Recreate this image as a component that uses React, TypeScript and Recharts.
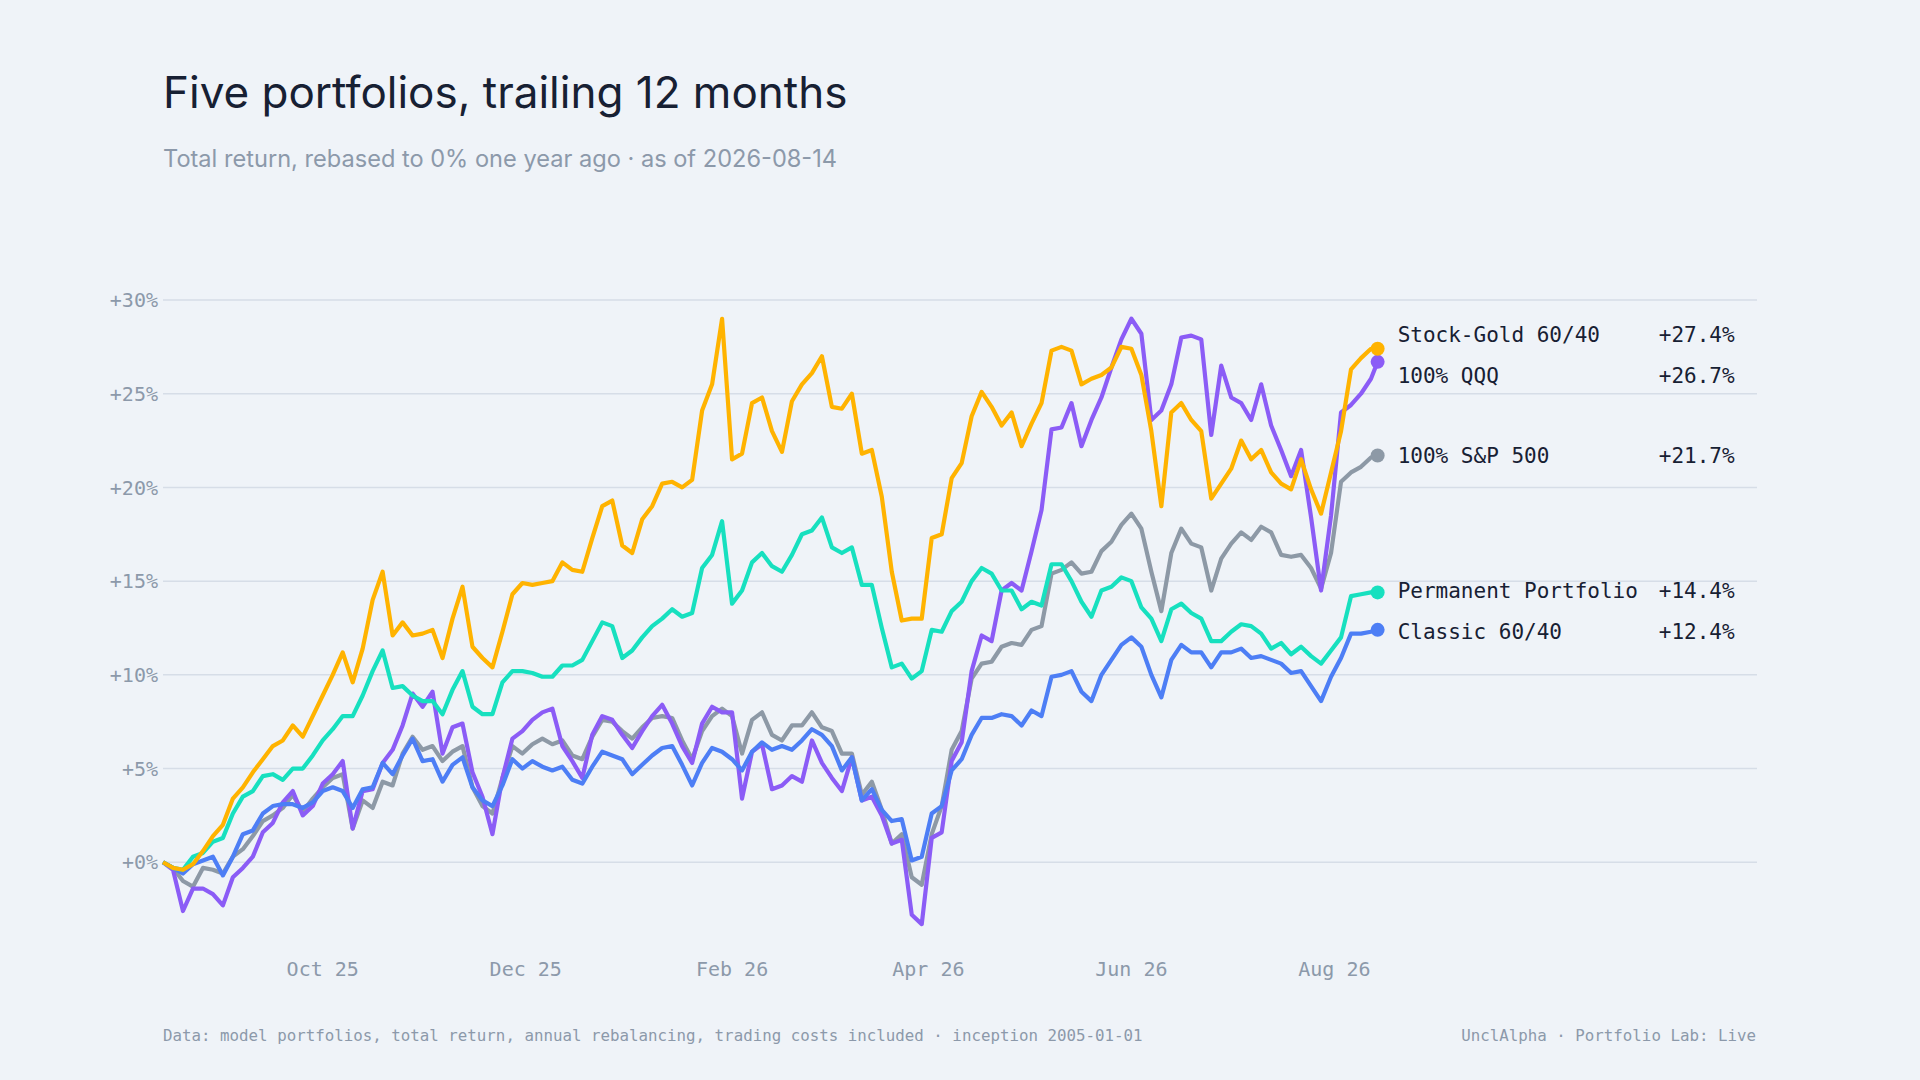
import { LineChart, Line, XAxis, YAxis, CartesianGrid } from 'recharts';

// trading-day sample, days since 2025-08-14
const days = [
  0, 3, 6, 9, 12, 15, 18, 21, 24, 27, 30, 33, 36, 39, 42, 45, 48, 51, 54, 57,
  60, 63, 66, 69, 72, 75, 78, 81, 84, 87, 90, 93, 96, 99, 102, 105, 108, 111, 114, 117,
  120, 123, 126, 129, 132, 135, 138, 141, 144, 147, 150, 153, 156, 159, 162, 165, 168, 171, 174, 177,
  180, 183, 186, 189, 192, 195, 198, 201, 204, 207, 210, 213, 216, 219, 222, 225, 228, 231, 234, 237,
  240, 243, 246, 249, 252, 255, 258, 261, 264, 267, 270, 273, 276, 279, 282, 285, 288, 291, 294, 297,
  300, 303, 306, 309, 312, 315, 318, 321, 324, 327, 330, 333, 336, 339, 342, 345, 348, 351, 354, 357,
  360, 363, 365,
];

const stockGold = [
  0, -0.3, -0.4, -0.1, 0.6, 1.4, 2.0, 3.4, 4.0, 4.8,
  5.5, 6.2, 6.5, 7.3, 6.7, 7.8, 8.9, 10.0, 11.2, 9.6,
  11.4, 14.0, 15.5, 12.1, 12.8, 12.1, 12.2, 12.4, 10.9, 13.0,
  14.7, 11.5, 10.9, 10.4, 12.3, 14.3, 14.9, 14.8, 14.9, 15.0,
  16.0, 15.6, 15.5, 17.3, 19.0, 19.3, 16.9, 16.5, 18.3, 19.0,
  20.2, 20.3, 20.0, 20.4, 24.1, 25.5, 29.0, 21.5, 21.8, 24.5,
  24.8, 23.0, 21.9, 24.6, 25.5, 26.1, 27.0, 24.3, 24.2, 25.0,
  21.8, 22.0, 19.5, 15.5, 12.9, 13.0, 13.0, 17.3, 17.5, 20.5,
  21.3, 23.8, 25.1, 24.3, 23.3, 24.0, 22.2, 23.4, 24.5, 27.3,
  27.5, 27.3, 25.5, 25.8, 26.0, 26.4, 27.5, 27.4, 26.0, 23.0,
  19.0, 24.0, 24.5, 23.6, 23.0, 19.4, 20.2, 21.0, 22.5, 21.5,
  22.0, 20.8, 20.2, 19.9, 21.5, 19.9, 18.6, 20.8, 23.0, 26.3,
  26.9, 27.4, 27.4,
];

const qqq = [
  0, -0.4, -2.6, -1.4, -1.4, -1.7, -2.3, -0.8, -0.3, 0.3,
  1.6, 2.1, 3.2, 3.8, 2.5, 3.0, 4.2, 4.7, 5.4, 1.8,
  3.8, 3.9, 5.3, 6.0, 7.3, 9.0, 8.3, 9.1, 5.8, 7.2,
  7.4, 4.8, 3.5, 1.5, 4.5, 6.6, 7.0, 7.6, 8.0, 8.2,
  6.2, 5.4, 4.5, 6.8, 7.8, 7.6, 6.8, 6.1, 7.0, 7.8,
  8.4, 7.4, 6.2, 5.3, 7.4, 8.3, 8.0, 8.0, 3.4, 5.9,
  6.3, 3.9, 4.1, 4.6, 4.3, 6.5, 5.3, 4.5, 3.8, 5.6,
  3.3, 3.5, 2.5, 1.0, 1.2, -2.8, -3.3, 1.3, 1.6, 5.4,
  6.4, 10.2, 12.1, 11.8, 14.5, 14.9, 14.5, 16.6, 18.8, 23.1,
  23.2, 24.5, 22.2, 23.6, 24.8, 26.4, 27.9, 29.0, 28.2, 23.6,
  24.1, 25.5, 28.0, 28.1, 27.9, 22.8, 26.5, 24.8, 24.5, 23.6,
  25.5, 23.3, 22.0, 20.6, 22.0, 18.4, 14.5, 18.5, 24.0, 24.4,
  25.0, 25.8, 26.7,
];

const sp500 = [
  0, -0.3, -1.0, -1.3, -0.3, -0.4, -0.6, 0.3, 0.7, 1.4,
  2.2, 2.5, 2.9, 3.6, 2.7, 3.4, 4.0, 4.5, 4.7, 1.8,
  3.3, 2.9, 4.3, 4.1, 5.8, 6.7, 6.0, 6.2, 5.4, 5.9,
  6.2, 4.0, 3.0, 2.6, 4.5, 6.2, 5.8, 6.3, 6.6, 6.3,
  6.5, 5.7, 5.5, 6.7, 7.6, 7.5, 7.0, 6.6, 7.2, 7.7,
  7.8, 7.7, 6.5, 5.5, 7.0, 7.8, 8.2, 7.8, 5.8, 7.6,
  8.0, 6.8, 6.5, 7.3, 7.3, 8.0, 7.2, 7.0, 5.8, 5.8,
  3.6, 4.3, 2.8, 1.0, 1.5, -0.8, -1.2, 1.5, 3.0, 6.0,
  7.0, 9.8, 10.6, 10.7, 11.5, 11.7, 11.6, 12.4, 12.6, 15.4,
  15.6, 16.0, 15.4, 15.5, 16.6, 17.1, 18.0, 18.6, 17.8, 15.5,
  13.4, 16.5, 17.8, 17.0, 16.8, 14.5, 16.2, 17.0, 17.6, 17.2,
  17.9, 17.6, 16.4, 16.3, 16.4, 15.7, 14.6, 16.5, 20.3, 20.8,
  21.1, 21.6, 21.7,
];

const permanent = [
  0, -0.3, -0.4, 0.3, 0.5, 1.1, 1.3, 2.6, 3.5, 3.8,
  4.6, 4.7, 4.4, 5.0, 5.0, 5.7, 6.5, 7.1, 7.8, 7.8,
  8.9, 10.2, 11.3, 9.3, 9.4, 8.9, 8.6, 8.6, 7.9, 9.2,
  10.2, 8.3, 7.9, 7.9, 9.6, 10.2, 10.2, 10.1, 9.9, 9.9,
  10.5, 10.5, 10.8, 11.8, 12.8, 12.6, 10.9, 11.3, 12.0, 12.6,
  13.0, 13.5, 13.1, 13.3, 15.7, 16.4, 18.2, 13.8, 14.5, 16.0,
  16.5, 15.8, 15.5, 16.4, 17.5, 17.7, 18.4, 16.8, 16.5, 16.8,
  14.8, 14.8, 12.5, 10.4, 10.6, 9.8, 10.2, 12.4, 12.3, 13.4,
  13.9, 15.0, 15.7, 15.4, 14.5, 14.5, 13.5, 13.9, 13.7, 15.9,
  15.9, 15.0, 13.9, 13.1, 14.5, 14.7, 15.2, 15.0, 13.6, 13.0,
  11.8, 13.5, 13.8, 13.3, 13.0, 11.8, 11.8, 12.3, 12.7, 12.6,
  12.2, 11.4, 11.7, 11.1, 11.5, 11.0, 10.6, 11.3, 12.0, 14.2,
  14.3, 14.4, 14.4,
];

const classic = [
  0, -0.3, -0.6, -0.1, 0.1, 0.3, -0.7, 0.3, 1.5, 1.7,
  2.6, 3.0, 3.1, 3.1, 2.9, 3.2, 3.8, 4.0, 3.8, 2.9,
  3.9, 4.0, 5.3, 4.7, 5.7, 6.6, 5.4, 5.5, 4.3, 5.2,
  5.6, 4.0, 3.3, 3.0, 4.1, 5.5, 5.0, 5.4, 5.1, 4.9,
  5.1, 4.4, 4.2, 5.1, 5.9, 5.7, 5.5, 4.7, 5.2, 5.7,
  6.1, 6.2, 5.2, 4.1, 5.3, 6.1, 5.9, 5.5, 4.9, 5.9,
  6.4, 6.0, 6.2, 6.0, 6.5, 7.1, 6.8, 6.2, 4.9, 5.6,
  3.3, 3.9, 2.8, 2.2, 2.3, 0.1, 0.3, 2.6, 3.0, 4.9,
  5.5, 6.8, 7.7, 7.7, 7.9, 7.8, 7.3, 8.1, 7.8, 9.9,
  10.0, 10.2, 9.1, 8.6, 10.0, 10.8, 11.6, 12.0, 11.5, 10.0,
  8.8, 10.8, 11.6, 11.2, 11.2, 10.4, 11.2, 11.2, 11.4, 10.9,
  11.0, 10.8, 10.6, 10.1, 10.2, 9.4, 8.6, 9.9, 10.9, 12.2,
  12.2, 12.3, 12.4,
];

const xTickDays = [48, 109, 171, 230, 291, 352];
const xTickLabels = ['Oct 25', 'Dec 25', 'Feb 26', 'Apr 26', 'Jun 26', 'Aug 26'];
const yTicks = [0, 5, 10, 15, 20, 25, 30];

// draw order: first is at the bottom
const series = [
  { key: 'sp500', name: '100% S&P 500', color: '#8d99a6', values: sp500 },
  { key: 'qqq', name: '100% QQQ', color: '#8b5cf6', values: qqq },
  { key: 'classic', name: 'Classic 60/40', color: '#4d7ef5', values: classic },
  { key: 'permanent', name: 'Permanent Portfolio', color: '#17e0bf', values: permanent },
  { key: 'stockGold', name: 'Stock-Gold 60/40', color: '#ffb300', values: stockGold },
];

const data = days.map((d, i) => {
  const row: any = { d };
  series.forEach((s) => (row[s.key] = s.values[i]));
  return row;
});

const W = 1920;
const H = 1080;
const PLOT_LEFT = 163;
const PLOT_RIGHT = 1757;
const PLOT_TOP = 300;
const PLOT_BOTTOM = 956;
const Y_MIN = -5;
const Y_MAX = 30;
const YAXIS_W = 80;
const XAXIS_H = 40;
const PX_PER_UNIT = (PLOT_BOTTOM - PLOT_TOP) / (Y_MAX - Y_MIN);
const LABEL_GAP = 41;

const INK = '#172033';
const MUTED = '#8c99aa';
const MONO = '"DejaVu Sans Mono", "Liberation Mono", monospace';
const SANS = 'Inter, "Noto Sans", sans-serif';

const last = data.length - 1;

// keep end labels from colliding
function labelOffsets() {
  const items = series
    .map((s) => {
      const v = s.values[last];
      const raw = PLOT_TOP + (Y_MAX - v) * PX_PER_UNIT;
      return { key: s.key, raw, y: raw };
    })
    .sort((a, b) => a.raw - b.raw);
  for (let pass = 0; pass < 30; pass++) {
    for (let i = 1; i < items.length; i++) {
      const gap = items[i].y - items[i - 1].y;
      if (gap < LABEL_GAP) {
        const push = (LABEL_GAP - gap) / 2;
        items[i - 1].y -= push;
        items[i].y += push;
      }
    }
  }
  const out: Record<string, number> = {};
  items.forEach((it) => (out[it.key] = it.y - it.raw));
  return out;
}
const offsets = labelOffsets();

function endMark(p: any, s: any) {
  if (p.index !== last) return <g key={`${s.key}-${p.index}`} />;
  const ly = p.cy + offsets[s.key];
  const v = s.values[last];
  return (
    <g key={`${s.key}-end`}>
      <circle cx={p.cx} cy={p.cy} r={7} fill={s.color} />
      <text x={p.cx + 20} y={ly} dy="0.35em" fontFamily={MONO} fontSize={21} fill={INK}>
        {s.name}
      </text>
      <text x={p.cx + 357} y={ly} dy="0.35em" textAnchor="end" fontFamily={MONO} fontSize={21} fill={INK}>
        {`+${v.toFixed(1)}%`}
      </text>
    </g>
  );
}

export default function App() {
  return (
    <div style={{ position: 'absolute', left: 0, top: 0, width: W, height: H, background: '#eff3f8', overflow: 'hidden' }}>
      <svg width={W} height={H} style={{ position: 'absolute', left: 0, top: 0 }}>
        <text x={163} y={108} fontFamily={SANS} fontSize={44} fill={INK}>
          Five portfolios, trailing 12 months
        </text>
        <text x={163} y={167} fontFamily={SANS} fontSize={23.6} fill={MUTED}>
          Total return, rebased to 0% one year ago · as of 2026-08-14
        </text>
        <text x={163} y={1041} fontFamily={MONO} fontSize={15.8} fill={MUTED}>
          Data: model portfolios, total return, annual rebalancing, trading costs included · inception 2005-01-01
        </text>
        <text x={1756} y={1041} textAnchor="end" fontFamily={MONO} fontSize={15.8} fill={MUTED}>
          UnclAlpha · Portfolio Lab: Live
        </text>
      </svg>
      <div style={{ position: 'absolute', left: 0, top: 0 }}>
        <LineChart
          width={W}
          height={H}
          data={data}
          margin={{ top: PLOT_TOP, right: W - PLOT_RIGHT, bottom: H - PLOT_BOTTOM - XAXIS_H, left: PLOT_LEFT - YAXIS_W }}
        >
          <CartesianGrid vertical={false} horizontalValues={yTicks} stroke="#d6dde7" strokeWidth={1.5} />
          <XAxis
            dataKey="d"
            type="number"
            domain={[0, 479]}
            ticks={xTickDays}
            interval={0}
            tickFormatter={(v: number) => xTickLabels[xTickDays.indexOf(v)]}
            axisLine={false}
            tickLine={false}
            tickSize={0}
            tickMargin={6}
            height={XAXIS_H}
            tick={{ fill: MUTED, fontSize: 20, fontFamily: MONO }}
          />
          <YAxis
            type="number"
            domain={[Y_MIN, Y_MAX]}
            ticks={yTicks}
            interval={0}
            tickFormatter={(v: number) => `+${v}%`}
            axisLine={false}
            tickLine={false}
            tickSize={0}
            tickMargin={5}
            width={YAXIS_W}
            tick={{ fill: MUTED, fontSize: 20, fontFamily: MONO }}
          />
          {series.map((s) => (
            <Line
              key={s.key}
              type="linear"
              dataKey={s.key}
              name={s.name}
              stroke={s.color}
              strokeWidth={4.2}
              strokeLinejoin="round"
              dot={(p: any) => endMark(p, s)}
              activeDot={false}
              isAnimationActive={false}
            />
          ))}
        </LineChart>
      </div>
    </div>
  );
}
